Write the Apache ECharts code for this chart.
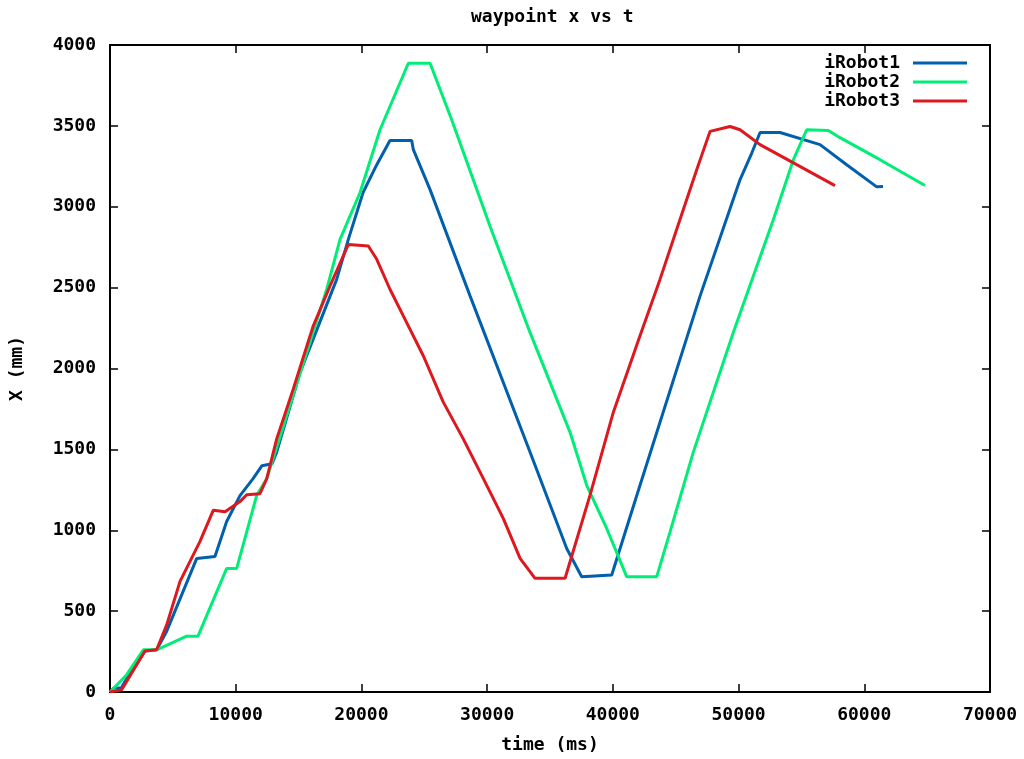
<!DOCTYPE html>
<html>
<head>
<meta charset="utf-8">
<script src="https://cdn.jsdelivr.net/npm/echarts@6/dist/echarts.min.js"></script>
<style>
html, body { margin: 0; padding: 0; background: #fff; }
#main { width: 1024px; height: 759px; }
</style>
</head>
<body>
<div id="main"></div>
<script>
// [time (ms), x (mm)]
var robot1 = [[0, 0], [300, 25], [900, 25], [1300, 80], [2780, 253], [3710, 261], [4510, 376], [6900, 826],
    [8350, 838], [9280, 1054], [10340, 1214], [11380, 1319], [12090, 1399], [12890, 1411],
    [13260, 1483], [15120, 1976], [18030, 2551], [18960, 2798], [20130, 3088], [21220, 3260],
    [22270, 3410], [24000, 3410], [24130, 3353], [25460, 3106], [28640, 2449], [33410, 1484],
    [36330, 887], [37520, 713], [39910, 723], [42160, 1278], [46940, 2449], [50120, 3168],
    [51050, 3332], [51710, 3459], [53300, 3459], [56480, 3384], [58600, 3260], [60990, 3123], [61490, 3125]];
var robot2 = [[0, 0], [1330, 107], [2650, 261], [3710, 261], [6100, 345], [7000, 345], [9280, 764],
    [10080, 764], [11670, 1216], [12470, 1319], [17240, 2490], [18300, 2798], [19890, 3088],
    [21480, 3476], [23730, 3887], [25460, 3887], [27180, 3538], [30230, 2880], [33410, 2223],
    [36590, 1607], [37920, 1278], [39510, 1011], [41100, 713], [43490, 713], [44550, 990],
    [46400, 1483], [49580, 2223], [52770, 2921], [54360, 3291], [55420, 3476], [57140, 3472],
    [58070, 3427], [61250, 3291], [64830, 3131]];
var robot3 = [[0, 0], [930, 14], [2780, 253], [3710, 261], [4510, 415], [5570, 684], [7160, 931],
    [8220, 1124], [9150, 1115], [10340, 1177], [10870, 1220], [11930, 1226], [12470, 1319],
    [13260, 1565], [14580, 1874], [16170, 2264], [17500, 2510], [18960, 2767], [20550, 2757],
    [21220, 2675], [22270, 2490], [23330, 2325], [24920, 2079], [26510, 1792], [28100, 1565],
    [29700, 1319], [31290, 1072], [32620, 826], [33810, 703], [36200, 703], [38180, 1216],
    [40040, 1730], [42160, 2202], [43750, 2551], [45340, 2921], [46670, 3229], [47730, 3466],
    [49320, 3496], [50120, 3476], [51710, 3384], [54330, 3273], [57670, 3131]];
var seriesNames = ['iRobot1', 'iRobot2', 'iRobot3'];
var seriesColors = ['#0060ad', '#00ee77', '#dd181f'];

var font = 'DejaVu Sans Mono';
var textStyle = { fontFamily: font, fontWeight: 'bold', fontSize: 18, color: '#000' };
var plain = function (v) { return String(v); };
function axisLine() { return { show: true, onZero: false, lineStyle: { color: '#000', width: 2 } }; }
function tick() { return { show: true, inside: true, length: 8, lineStyle: { color: '#000', width: 1.5 } }; }

var myChart = echarts.init(document.getElementById('main'));
var option = {
    animation: false,
    backgroundColor: '#fff',
    title: {
        text: 'waypoint x vs t',
        left: 466,
        top: 3,
        textStyle: textStyle
    },
    legend: {
        data: seriesNames,
        orient: 'vertical',
        right: 57,
        top: 54,
        padding: 0,
        align: 'right',
        icon: 'rect',
        itemWidth: 54,
        itemHeight: 3,
        itemGap: 1,
        textStyle: Object.assign({ padding: [0, 8, 0, 0] }, textStyle)
    },
    grid: { left: 110, right: 34, top: 45, bottom: 65, show: true, borderColor: '#000', borderWidth: 2 },
    xAxis: [{
        type: 'value',
        min: 0, max: 70000, interval: 10000,
        name: 'time (ms)',
        nameLocation: 'middle',
        nameGap: 44,
        nameTextStyle: textStyle,
        axisLine: axisLine(),
        axisTick: tick(),
        axisLabel: Object.assign({ margin: 14, formatter: plain }, textStyle),
        splitLine: { show: false }
    }, {
        type: 'value',
        position: 'top',
        min: 0, max: 70000, interval: 10000,
        axisLine: axisLine(),
        axisTick: tick(),
        axisLabel: { show: false },
        splitLine: { show: false }
    }],
    yAxis: [{
        type: 'value',
        min: 0, max: 4000, interval: 500,
        name: 'X (mm)',
        nameLocation: 'middle',
        nameGap: 84,
        nameTextStyle: textStyle,
        axisLine: axisLine(),
        axisTick: tick(),
        axisLabel: Object.assign({ margin: 14, formatter: plain }, textStyle),
        splitLine: { show: false }
    }, {
        type: 'value',
        position: 'right',
        min: 0, max: 4000, interval: 500,
        axisLine: axisLine(),
        axisTick: tick(),
        axisLabel: { show: false },
        splitLine: { show: false }
    }],
    series: [robot1, robot2, robot3].map(function (d, i) {
        return {
            name: seriesNames[i],
            type: 'line',
            data: d,
            showSymbol: false,
            color: seriesColors[i],
            lineStyle: { width: 3, color: seriesColors[i] }
        };
    }).concat([{
        // binds the top/right axes so their ticks are drawn
        type: 'line',
        xAxisIndex: 1,
        yAxisIndex: 1,
        data: [],
        showSymbol: false
    }])
};
myChart.setOption(option);
</script>
</body>
</html>
